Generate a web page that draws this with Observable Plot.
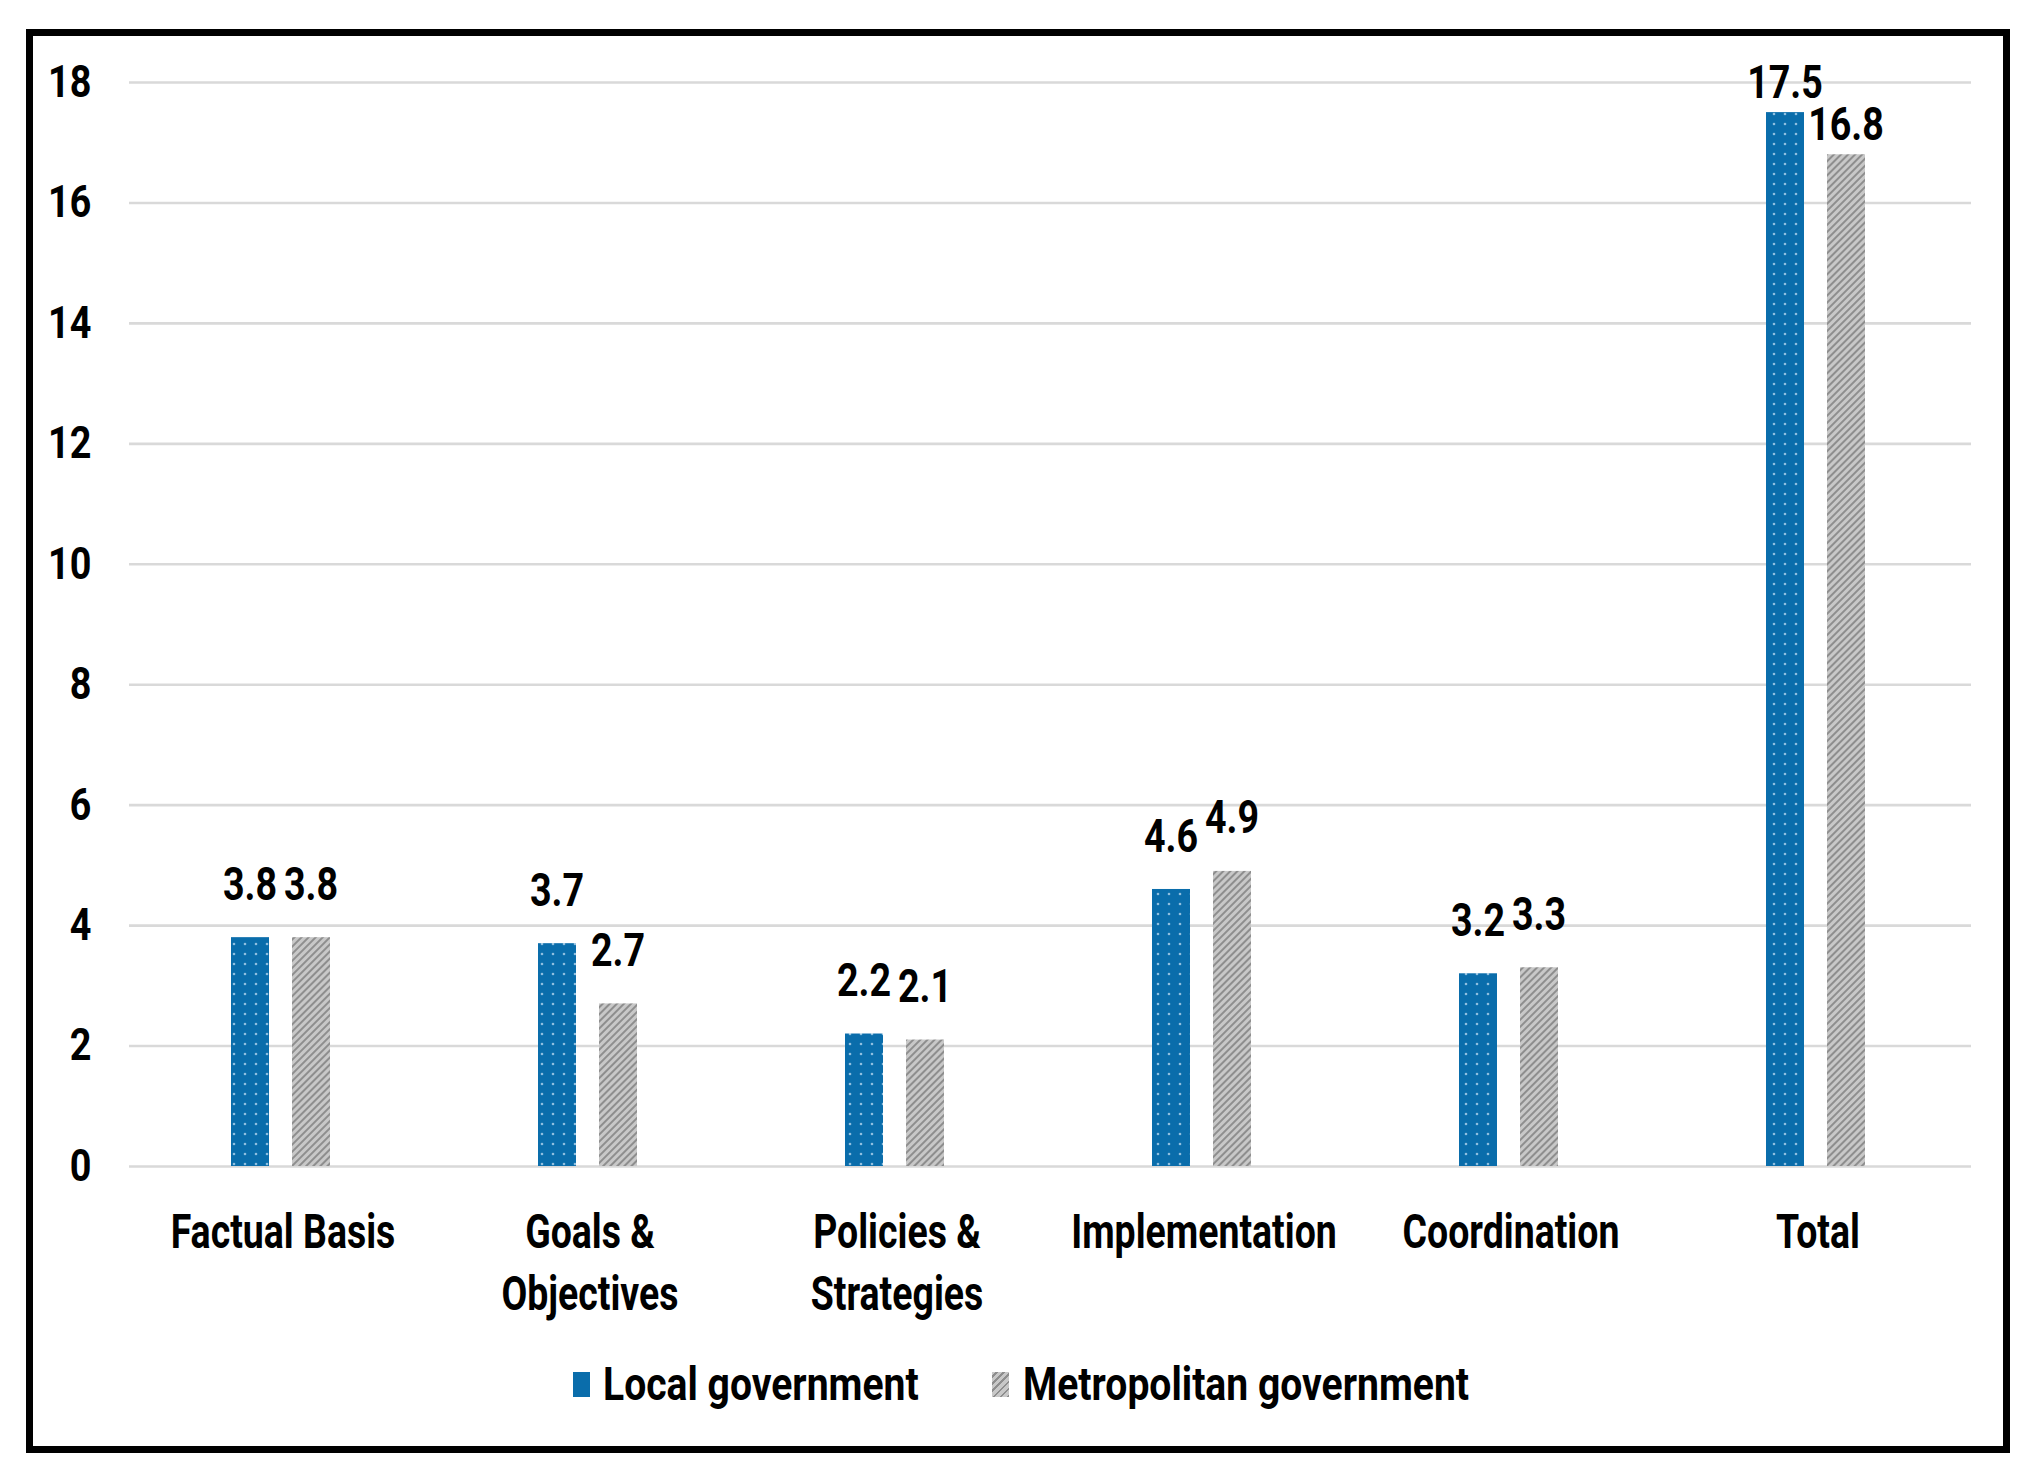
<!DOCTYPE html>
<html><head><meta charset="utf-8">
<script src="https://cdn.jsdelivr.net/npm/d3@7"></script>
<script src="https://cdn.jsdelivr.net/npm/@observablehq/plot@0.6"></script>
<style>
html,body{margin:0;background:#fff;overflow:hidden;}
#wrap{position:relative;width:2034px;height:1475px;overflow:hidden;background:#fff;}
#chart{position:absolute;left:0;top:0;width:2034px;}
#chart svg{max-width:none;}
#frame{position:absolute;left:26px;top:29px;width:1984px;height:1424px;box-sizing:border-box;border:7px solid #000;pointer-events:none;}
.lg{position:absolute;font-family:Roboto,"Liberation Sans",sans-serif;font-size:46px;font-weight:bold;color:#000;white-space:nowrap;line-height:1;transform:scaleX(0.85);transform-origin:left center;}
.sw{position:absolute;width:17px;height:25px;}
</style>
</head><body>
<div id="wrap"><div id="chart"></div><div id="frame"></div><div id="legend"></div></div>
<script>
const categories = ["Factual Basis","Goals & Objectives","Policies & Strategies","Implementation","Coordination","Total"];
const xTickLabels = ["Factual Basis","Goals &\nObjectives","Policies &\nStrategies","Implementation","Coordination","Total"];
const seriesNames = ["Local government","Metropolitan government"];
const localValues = [3.8, 3.7, 2.2, 4.6, 3.2, 17.5];
const metroValues = [3.8, 2.7, 2.1, 4.9, 3.3, 16.8];
const yTicks = [0, 2, 4, 6, 8, 10, 12, 14, 16, 18];

const local = categories.map((c, i) => ({category: c, series: seriesNames[0], value: localValues[i]}));
const metro = categories.map((c, i) => ({category: c, series: seriesNames[1], value: metroValues[i]}));

const FONT = 'Roboto,"Liberation Sans",sans-serif';
const labelOpts = {fontSize: 47, fontWeight: "bold", fontFamily: FONT, fill: "#000", lineAnchor: "middle", textAnchor: "middle", className: "vlab"};
const isTotal = d => d.category === "Total";

const chart = Plot.plot({
  width: 2034, height: 1340,
  marginLeft: 129, marginRight: 63, marginTop: 82, marginBottom: 174,
  style: {background: "transparent", color: "#000"},
  x: {domain: categories, padding: 0, axis: null, label: null},
  y: {domain: [0, 18], axis: null, label: null},
  marks: [
    Plot.ruleY(yTicks, {stroke: "#d9d9d9", strokeWidth: 2.6}),
    Plot.barY(local, {x: "category", y: "value", fill: "url(#dots)", insetLeft: 102, insetRight: 167}),
    Plot.barY(metro, {x: "category", y: "value", fill: "url(#hatch)", insetLeft: 163, insetRight: 106}),
    Plot.text(local, {filter: d => !isTotal(d), x: "category", y: "value", text: d => d.value.toFixed(1), dx: -33, dy: -53, ...labelOpts}),
    Plot.text(metro, {filter: d => !isTotal(d), x: "category", y: "value", text: d => d.value.toFixed(1), dx: 28, dy: -53, ...labelOpts}),
    Plot.text(local, {filter: isTotal, x: "category", y: "value", text: d => d.value.toFixed(1), dx: -33, dy: -30, ...labelOpts}),
    Plot.text(metro, {filter: isTotal, x: "category", y: "value", text: d => d.value.toFixed(1), dx: 28, dy: -30, ...labelOpts}),
    Plot.axisY(yTicks, {tickSize: 0, tickPadding: 38, fontSize: 45, fontWeight: "bold", fontFamily: FONT, fill: "#000",
      tickFormat: d => String(d), label: null, className: "ylab"}),
    Plot.axisX({tickSize: 0, tickPadding: 37, fontSize: 48, fontWeight: "bold", fontFamily: FONT, fill: "#000", lineHeight: 1.3,
      tickFormat: d => xTickLabels[categories.indexOf(d)], label: null, className: "xlab"})
  ]
});

// horizontal condensing of text (the reference font is a narrow face)
function condense(sel, sx) {
  chart.querySelectorAll(sel).forEach(t => {
    const tr = t.getAttribute("transform") || "";
    const x = +t.getAttribute("x") || 0;
    t.setAttribute("transform", `${tr} translate(${x},0) scale(${sx},1) translate(${-x},0)`);
  });
}
condense("g.vlab text", 0.8);
condense("g.ylab text", 0.84);
condense("g.xlab text", 0.78);

const defs = d3.select(chart).insert("defs", ":first-child");
const dots = defs.append("pattern").attr("id", "dots").attr("patternUnits", "userSpaceOnUse").attr("width", 11).attr("height", 10);
dots.append("rect").attr("width", 11).attr("height", 10).attr("fill", "#0a6dab");
dots.append("circle").attr("cx", 3).attr("cy", 4).attr("r", 1.3).attr("fill", "#8fbfe0");
const hatch = defs.append("pattern").attr("id", "hatch").attr("patternUnits", "userSpaceOnUse").attr("width", 5).attr("height", 5).attr("patternTransform", "rotate(45)");
hatch.append("rect").attr("width", 5).attr("height", 5).attr("fill", "#c8c8c8");
hatch.append("rect").attr("width", 2).attr("height", 5).attr("fill", "#8e8e8e");

document.getElementById("chart").appendChild(chart);

const legend = d3.select("#legend");
const swFills = ["#0a6dab", "repeating-linear-gradient(-45deg,#8e8e8e 0 2px,#c8c8c8 2px 5px)"];
const swLeft = [573, 992], txtLeft = [603, 1023];
seriesNames.forEach((name, i) => {
  legend.append("div").attr("class", "sw").style("left", swLeft[i] + "px").style("top", "1372px").style("background", swFills[i]);
  legend.append("div").attr("class", "lg").style("left", txtLeft[i] + "px").style("top", "1361px").text(name);
});
</script>
</body></html>
